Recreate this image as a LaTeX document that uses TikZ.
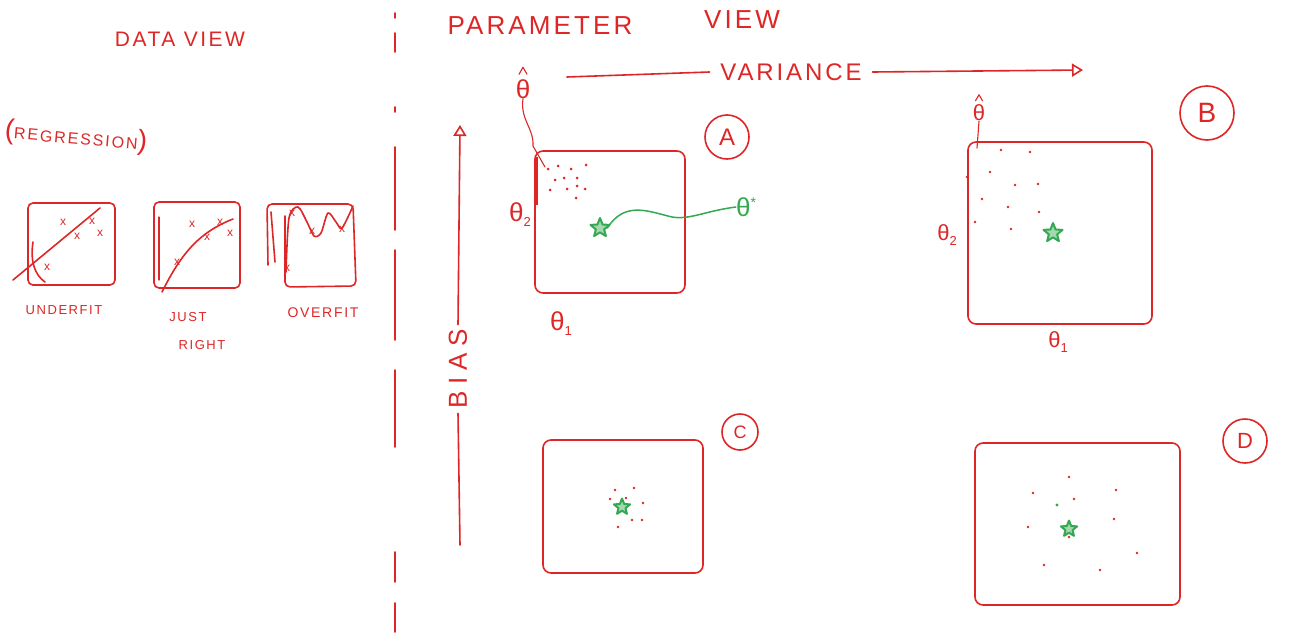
\documentclass[tikz,border=0pt]{standalone}
\usepackage{fontspec}
\setmainfont{Liberation Sans}
\newfontfamily\hand[LetterSpace=12]{Liberation Sans}
\newfontfamily\handw[LetterSpace=25]{Liberation Sans}
\usetikzlibrary{shapes.geometric,arrows.meta}
\definecolor{pen}{RGB}{222,38,38}
\definecolor{grn}{RGB}{52,168,82}
\newcommand{\sub}[1]{\raisebox{-5pt}{\fontsize{13}{13}\selectfont #1}}
\newcommand{\supr}[1]{\raisebox{9pt}{\fontsize{14}{14}\selectfont #1}}
\begin{document}
\begin{tikzpicture}[x=1pt,y=-1pt,
  ink/.style={draw=pen,line width=1.6pt,line cap=round,line join=round},
  fine/.style={draw=pen,line width=1.1pt,line cap=round,line join=round},
  gline/.style={draw=grn,line width=1.5pt,line cap=round},
  lbl/.style={text=pen,inner sep=0pt},
  th/.style={text=pen,inner sep=0pt,align=center,font=\fontsize{#1}{#1}\selectfont},
  pbox/.style 2 args={ink,rounded corners=8pt,minimum width=#1,minimum height=#2,inner sep=0pt},
  sbox/.style 2 args={ink,rounded corners=5pt,minimum width=#1,minimum height=#2,inner sep=0pt},
  tag/.style={circle,draw=pen,line width=1.6pt,text=pen,inner sep=0pt,minimum size=#1},
  gstar/.style={star,star points=5,star point ratio=2.3,draw=grn,fill=grn!45,line width=2pt,line join=round,minimum size=#1,inner sep=0pt},
  mk/.style={text=pen,inner sep=0pt,font=\fontsize{12}{12}\selectfont},
  dot/.style={fill=pen},
  openarrow/.style={-{Triangle[open,length=11pt,width=13pt]}}
]
\fill[white] (0,0) rectangle (1304,632);
\useasboundingbox (0,0) rectangle (1304,632);

% divider
\foreach \a/\b in {13/18,33/52,107/112,147/230,250/340,370/447,552/582,603/632}
  \draw[ink] (395,\a) -- (395,\b);

% ---------- data view ----------
\node[lbl,font=\hand\fontsize{21}{21}\selectfont] (dv) at (180,39) {DATA VIEW};
\node[lbl,font=\hand\fontsize{16}{16}\selectfont,rotate=-5] (reg) at (76,137) {\fontsize{28}{28}\selectfont(\fontsize{16}{16}\selectfont REGRESSION\fontsize{28}{28}\selectfont)};

\node[sbox={87pt}{82pt}] (L1) at (71.5,244) {};
\node[sbox={86pt}{86pt}] (L2) at (197,245) {};
\draw[ink,rounded corners=5pt] (268,265) -- (267,204) -- (353,204) -- (356,286) -- (285,287) -- (285,216);

% underfit
\draw[ink] (13,280) -- (100,208);
\draw[ink] (33,242) .. controls (30,262) and (35,275) .. (45,282);
\node[mk] (u1) at (63,222) {x};
\node[mk] (u2) at (92,221) {x};
\node[mk] (u3) at (77,236) {x};
\node[mk] (u4) at (100,233) {x};
\node[mk] (u5) at (47,267) {x};
% just right
\draw[ink] (162,292) .. controls (182,252) and (200,232) .. (233,219);
\draw[fine] (159,217) -- (159,280);
\node[mk] (j1) at (192,224) {x};
\node[mk] (j2) at (207,237) {x};
\node[mk] (j3) at (220,222) {x};
\node[mk] (j4) at (230,233) {x};
\node[mk] (j5) at (177,262) {x};
% overfit
\draw[ink] plot[smooth,tension=0.5] coordinates {(286,272) (289,218) (298,207) (307,222) (314,236) (321,233) (328,213) (336,222) (342,228) (353,206)};
\draw[ink] (271,212) -- (275,262);
\node[mk] (o1) at (292,213) {x};
\node[mk] (o2) at (312,231) {x};
\node[mk] (o3) at (342,229) {x};
\node[mk] (o4) at (287,268) {x};

\node[lbl,font=\hand\fontsize{13}{13}\selectfont] (uf) at (64,310) {UNDERFIT};
\node[lbl,font=\hand\fontsize{13}{13}\selectfont] (js) at (188,317) {JUST};
\node[lbl,font=\hand\fontsize{13}{13}\selectfont] (rt) at (202,345) {RIGHT};
\node[lbl,font=\hand\fontsize{14}{14}\selectfont] (of) at (323,313) {OVERFIT};

% ---------- parameter view ----------
\node[lbl,font=\hand\fontsize{26}{26}\selectfont] (pv) at (540,26) {PARAMETER};
\node[lbl,font=\hand\fontsize{26}{26}\selectfont] (vw) at (742,20) {VIEW};

\node[lbl,font=\hand\fontsize{24}{24}\selectfont,outer sep=11pt] (var) at (791,72) {VARIANCE};
\coordinate (v1) at (567,77);
\coordinate (v2) at (1083,70);
\draw[ink] (v1) -- (var.west);
\draw[ink,openarrow] (var.east) -- (v2);

\node[lbl,font=\handw\fontsize{26}{26}\selectfont,rotate=90,outer sep=5pt] (bias) at (458,369) {BIAS};
\coordinate (b1) at (460,545);
\coordinate (b2) at (460,125);
\draw[ink] (b1) -- (bias.west);
\draw[ink,openarrow] (bias.east) -- (b2);

% box A
\node[pbox={150pt}{142pt}] (A) at (610,222) {};
\draw[line width=2.4pt,draw=pen] (537,157) -- (537,205);
\node[tag=44pt,font=\fontsize{24}{24}\selectfont] (tA) at (727,137) {A};
\node[th=26] (thA) at (523,89) {θ};
\draw[fine] ([shift={(-4,-5)}]thA.north) -- ([shift={(0,-12)}]thA.north) -- ([shift={(4,-5)}]thA.north);
\node[th=26] (t2A) at (520,215) {θ\sub{2}};
\node[th=26] (t1A) at (561,324) {θ\sub{1}};
\coordinate (pA) at (545,167);
\draw[fine] (thA.south) .. controls (520,120) and (534,128) .. (533,146) -- (pA);
\foreach \p in {(548,169),(558,166),(571,169),(586,165),(555,180),(564,178),(577,178),(550,190),(567,189),(577,186),(585,189),(576,198)}
  \fill[dot] \p circle (1.5pt);
\node[gstar=20pt] (sA) at (600,228) {};
\node[th=26,text=grn] (ts) at (746,207) {θ\supr{*}};
\draw[gline] (sA.east) .. controls (625,200) and (650,212) .. (672,217) .. controls (690,220) and (705,211) .. (ts.west);

% box B
\node[pbox={184pt}{182pt}] (B) at (1060,233) {};
\node[tag=54pt,font=\fontsize{28}{28}\selectfont] (tB) at (1207,113) {B};
\node[th=22] (thB) at (979,113) {θ};
\draw[fine] ([shift={(-3.5,-4)}]thB.north) -- ([shift={(0,-10)}]thB.north) -- ([shift={(3.5,-4)}]thB.north);
\node[th=22] (t2B) at (947,235) {θ\sub{2}};
\node[th=22] (t1B) at (1058,342) {θ\sub{1}};
\coordinate (pB) at (977,148);
\draw[fine] (thB.south) -- (pB);
\foreach \p in {(1030,152),(1001,150),(990,172),(1015,185),(1038,184),(982,199),(1008,207),(1039,212),(975,222),(1011,229),(967,177)}
  \fill[dot] \p circle (1.3pt);
\node[gstar=20pt] (sB) at (1053,233) {};

% box C
\node[pbox={160pt}{133pt}] (C) at (623,506.5) {};
\node[tag=36pt,font=\fontsize{18}{18}\selectfont] (tC) at (740,432) {C};
\foreach \p in {(615,490),(634,488),(610,499),(643,503),(632,520),(642,520),(618,527),(626,498)}
  \fill[dot] \p circle (1.4pt);
\node[gstar=17pt] (sC) at (622,507) {};

% box D
\node[pbox={205pt}{162pt}] (D) at (1077.5,524) {};
\node[tag=44pt,font=\fontsize{22}{22}\selectfont] (tD) at (1245,441) {D};
\foreach \p in {(1069,477),(1033,493),(1116,490),(1074,499),(1028,527),(1114,519),(1069,537),(1137,553),(1044,565),(1100,570)}
  \fill[dot] \p circle (1.3pt);
\fill[grn] (1057,505) circle (1.6pt);
\node[gstar=17pt] (sD) at (1069,529) {};
\end{tikzpicture}
\end{document}
